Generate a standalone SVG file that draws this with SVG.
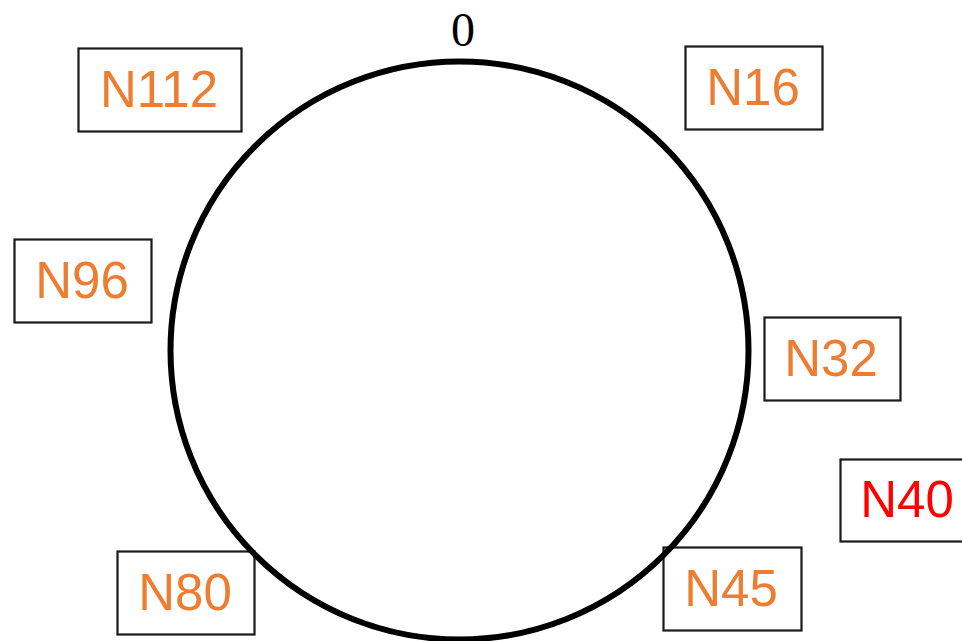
<svg xmlns="http://www.w3.org/2000/svg" width="962" height="641" viewBox="0 0 962 641">
<style>
.box{fill:#ffffff;stroke:#1a1a1a;stroke-width:2.2}
.lbl{font-family:"Liberation Sans",Arial,sans-serif;font-size:51px;fill:#ED7D31;text-anchor:middle}
.red{fill:#FF0000}
.zero{font-family:"Liberation Serif","Times New Roman",serif;font-size:48px;fill:#000;text-anchor:middle}
</style>
<rect width="962" height="641" fill="#ffffff"/>
<g id="n112"><rect class="box" x="78.5" y="48.5" width="163" height="83"/><text class="lbl" x="159" y="107">N112</text></g>
<g id="n16"><rect class="box" x="685.5" y="46.5" width="137" height="83"/><text class="lbl" x="753" y="105">N16</text></g>
<g id="n96"><rect class="box" x="14.5" y="239.5" width="137" height="83"/><text class="lbl" x="82" y="298">N96</text></g>
<g id="n32"><rect class="box" x="764.5" y="317.5" width="136" height="83"/><text class="lbl" x="831" y="376">N32</text></g>
<g id="n40"><rect class="box" x="840.5" y="459.5" width="137" height="82"/><text class="lbl red" x="907" y="517">N40</text></g>
<g id="n80"><rect class="box" x="117.5" y="551.5" width="137" height="83"/><text class="lbl" x="185" y="610">N80</text></g>
<g id="n45"><rect class="box" x="663.5" y="547.5" width="138" height="83"/><text class="lbl" x="731" y="606">N45</text></g>
<g id="connectors">
<circle cx="459.5" cy="350.5" r="289" fill="none" stroke="#000" stroke-width="6"/>
</g>
<text class="zero" x="463" y="46">0</text>
</svg>
